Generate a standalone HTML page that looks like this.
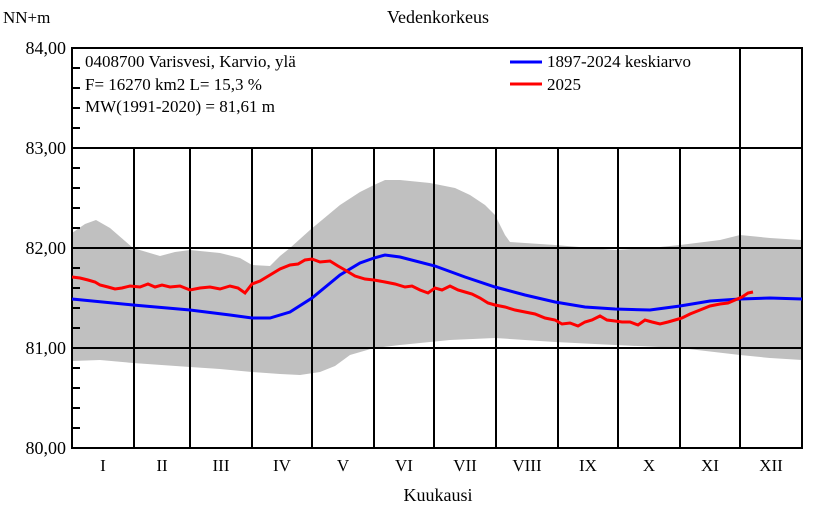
<!DOCTYPE html>
<html><head><meta charset="utf-8"><style>
body{margin:0;background:#fff;}
svg{display:block;font-family:"Liberation Serif",serif;}
</style></head><body>
<svg width="840" height="520" viewBox="0 0 840 520" xmlns="http://www.w3.org/2000/svg">
<rect width="840" height="520" fill="#fff"/>
<polygon fill="#c0c0c0" points="72,233 85,224 96,220 110,228 133,248 160,256 175,252 190,250 220,253 240,258 252,265 270,266 280,256 290,248 310,230 340,205 360,192 374,185 385,180 400,180 430,183 455,188 470,195 485,205 495,215 505,235 510,242 555,245 615,250 650,248 680,245 720,240 740,235 770,238 802,240 802,360 770,358 740,355 680,348 615,345 555,342 495,338 450,340 400,345 374,348 350,355 335,366 320,372 300,375 280,374 252,372 220,369 190,367 133,363 100,360 72,361"/>
<g stroke="#000" stroke-width="2" fill="none">
<line x1="72" y1="148" x2="802" y2="148"/>
<line x1="72" y1="248" x2="802" y2="248"/>
<line x1="72" y1="348" x2="802" y2="348"/>
<line x1="134" y1="148" x2="134" y2="448"/>
<line x1="190" y1="148" x2="190" y2="448"/>
<line x1="252" y1="148" x2="252" y2="448"/>
<line x1="312" y1="148" x2="312" y2="448"/>
<line x1="374" y1="148" x2="374" y2="448"/>
<line x1="434" y1="148" x2="434" y2="448"/>
<line x1="496" y1="148" x2="496" y2="448"/>
<line x1="558" y1="148" x2="558" y2="448"/>
<line x1="618" y1="148" x2="618" y2="448"/>
<line x1="680" y1="148" x2="680" y2="448"/>
<line x1="740" y1="48" x2="740" y2="448"/>
<rect x="72" y="48" width="730" height="400"/>
</g>
<g stroke="#000" stroke-width="2">
<line x1="72" y1="68" x2="80" y2="68"/><line x1="72" y1="88" x2="80" y2="88"/><line x1="72" y1="108" x2="80" y2="108"/><line x1="72" y1="128" x2="80" y2="128"/>
<line x1="72" y1="168" x2="80" y2="168"/><line x1="72" y1="188" x2="80" y2="188"/><line x1="72" y1="208" x2="80" y2="208"/><line x1="72" y1="228" x2="80" y2="228"/>
<line x1="72" y1="268" x2="80" y2="268"/><line x1="72" y1="288" x2="80" y2="288"/><line x1="72" y1="308" x2="80" y2="308"/><line x1="72" y1="328" x2="80" y2="328"/>
<line x1="72" y1="368" x2="80" y2="368"/><line x1="72" y1="388" x2="80" y2="388"/><line x1="72" y1="408" x2="80" y2="408"/><line x1="72" y1="428" x2="80" y2="428"/>
</g>
<polyline fill="none" stroke="#0000ff" stroke-width="3" points="72,299 133,305 190,310 230,315 252,318 270,318 290,312 312,298 340,275 360,263 374,258 385,255 400,257 435,266 465,277 495,287 525,295 555,302 585,307 615,309 650,310 680,306 710,301 740,299 770,298 802,299"/>
<polyline fill="none" stroke="#ff0000" stroke-width="3" points="72,277 80,278 88,280 95,282 100,285 108,287 115,289 122,288 130,286 140,287 148,284 155,287 162,285 170,287 180,286 190,290 200,288 210,287 220,289 230,286 238,288 245,293 252,284 260,281 270,275 280,269 290,265 298,264 305,260 312,259 320,262 330,261 338,266 345,270 355,276 365,279 374,280 385,282 395,284 405,287 412,286 420,290 428,293 435,288 442,290 450,286 458,290 465,292 472,294 480,298 488,303 495,305 505,307 515,310 525,312 535,314 545,318 555,320 562,324 570,323 578,326 585,322 592,320 600,316 607,320 615,321 622,322 630,322 638,325 645,320 652,322 660,324 668,322 675,320 682,318 690,314 700,310 710,306 720,304 728,303 735,300 742,297 748,293 753,292"/>
<g font-size="17" fill="#000">
<text x="85" y="67">0408700 Varisvesi, Karvio, ylä</text>
<text x="85" y="90">F=  16270 km2 L=  15,3 %</text>
<text x="85" y="112">MW(1991-2020) = 81,61 m</text>
<text x="547" y="67">1897-2024 keskiarvo</text>
<text x="547" y="90">2025</text>
<text x="3" y="23">NN+m</text>
<text x="438" y="23" text-anchor="middle" font-size="18">Vedenkorkeus</text>
<text x="438" y="501" text-anchor="middle" font-size="18">Kuukausi</text>
</g>
<line x1="510" y1="62" x2="542" y2="62" stroke="#0000ff" stroke-width="3"/>
<line x1="510" y1="84" x2="542" y2="84" stroke="#ff0000" stroke-width="3"/>
<g font-size="18" fill="#000" text-anchor="end">
<text x="66" y="54">84,00</text><text x="66" y="154">83,00</text><text x="66" y="254">82,00</text><text x="66" y="354">81,00</text><text x="66" y="454">80,00</text>
</g>
<g font-size="17" fill="#000" text-anchor="middle">
<text x="103" y="471">I</text><text x="162" y="471">II</text><text x="221" y="471">III</text><text x="282" y="471">IV</text><text x="343" y="471">V</text><text x="404" y="471">VI</text><text x="465" y="471">VII</text><text x="527" y="471">VIII</text><text x="588" y="471">IX</text><text x="649" y="471">X</text><text x="710" y="471">XI</text><text x="771" y="471">XII</text>
</g>
</svg>
</body></html>
